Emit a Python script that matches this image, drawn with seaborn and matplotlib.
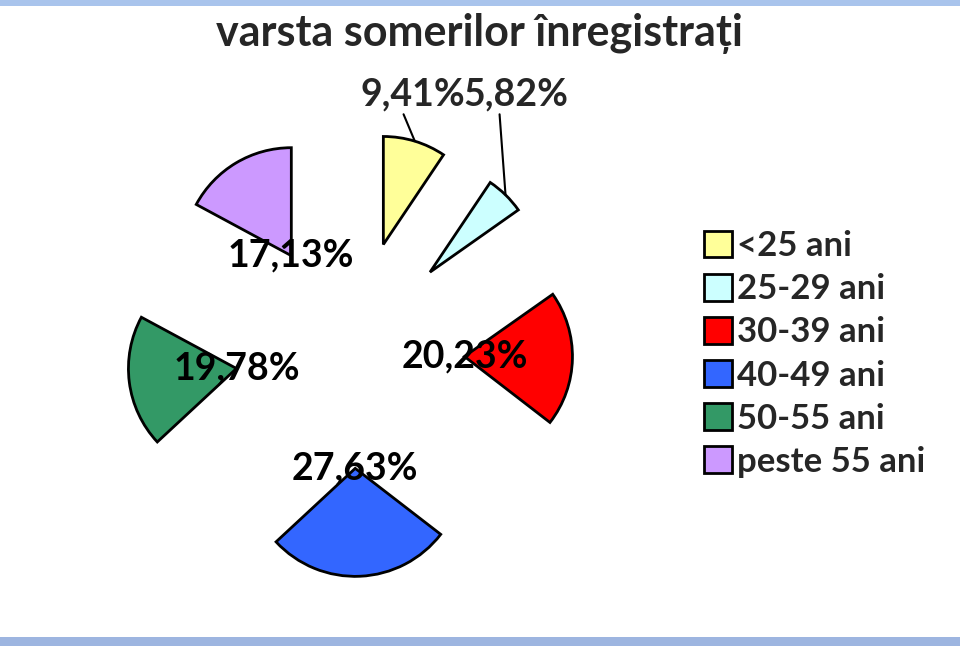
import numpy as np
import matplotlib
matplotlib.use("Agg")
import matplotlib.pyplot as plt
import seaborn as sns
from matplotlib.patches import Rectangle

# data
categories = ["<25 ani", "25-29 ani", "30-39 ani", "40-49 ani", "50-55 ani", "peste 55 ani"]
shares = [9.41, 5.82, 20.23, 27.63, 19.78, 17.13]
colors = ["#FFFF99", "#CCFFFF", "#FF0000", "#3366FF", "#339966", "#CC99FF"]
title = "varsta somerilor înregistrați"

sns.set_theme(style="white")
plt.rcParams["font.family"] = ["Lato", "DejaVu Sans"]
plt.rcParams["font.weight"] = "bold"

W, H = 960, 646
fig = plt.figure(figsize=(W / 100, H / 100), dpi=100)
fig.patch.set_facecolor("white")

# light blue bands of the screenshot frame
fig.add_artist(Rectangle((0, 1 - 6 / H), 1, 6 / H, transform=fig.transFigure,
                         color="#A9C4EC", lw=0))
fig.add_artist(Rectangle((0, 0), 1, 9 / H, transform=fig.transFigure,
                         color="#9DB5E0", lw=0))

ax = fig.add_axes([0, 0, 1, 1])

radius = 108
pct = lambda p: f"{p:.2f}%".replace(".", ",")
wedges, texts, autotexts = ax.pie(
    shares, colors=colors, startangle=90, counterclock=False,
    radius=radius, center=(350, H - 354), explode=[1.06 * radius] * len(shares),
    autopct=pct, pctdistance=0,
    wedgeprops=dict(edgecolor="black", linewidth=2),
    textprops=dict(fontsize=27, fontweight="bold", color="black"),
    frame=True,
)
ax.set_xlim(0, W)
ax.set_ylim(0, H)
ax.set_aspect("equal")
ax.axis("off")

# the two small slices have their labels moved up, with leader lines
label_pos = {0: (413, H - 94), 1: (516, H - 94)}
line_start = {0: (0.39, 0.05), 1: (0.34, 0.05)}
for i, xy_text in label_pos.items():
    w = wedges[i]
    mid = np.deg2rad((w.theta1 + w.theta2) / 2)
    cx, cy = w.center
    tip = (cx + w.r * np.cos(mid), cy + w.r * np.sin(mid))
    autotexts[i].set_visible(False)
    ax.annotate(pct(shares[i]), xy=tip, xytext=xy_text,
                ha="center", va="center", fontsize=27, fontweight="bold",
                arrowprops=dict(arrowstyle="-", color="black", lw=1.5,
                                relpos=line_start[i], shrinkA=0, shrinkB=0))

for t in autotexts:
    t.set_zorder(5)

ax.legend(wedges, categories, loc="center left", bbox_to_anchor=(704 / W, 1 - 354 / H),
          frameon=False, fontsize=25, handlelength=0.8, handleheight=0.8,
          handletextpad=0.15, labelspacing=0.32, borderaxespad=0, borderpad=0)

fig.text(479 / W, 1 - 34 / H, title, ha="center", va="center",
         fontsize=31, fontweight="bold")

fig.savefig("out.png", dpi=100)
